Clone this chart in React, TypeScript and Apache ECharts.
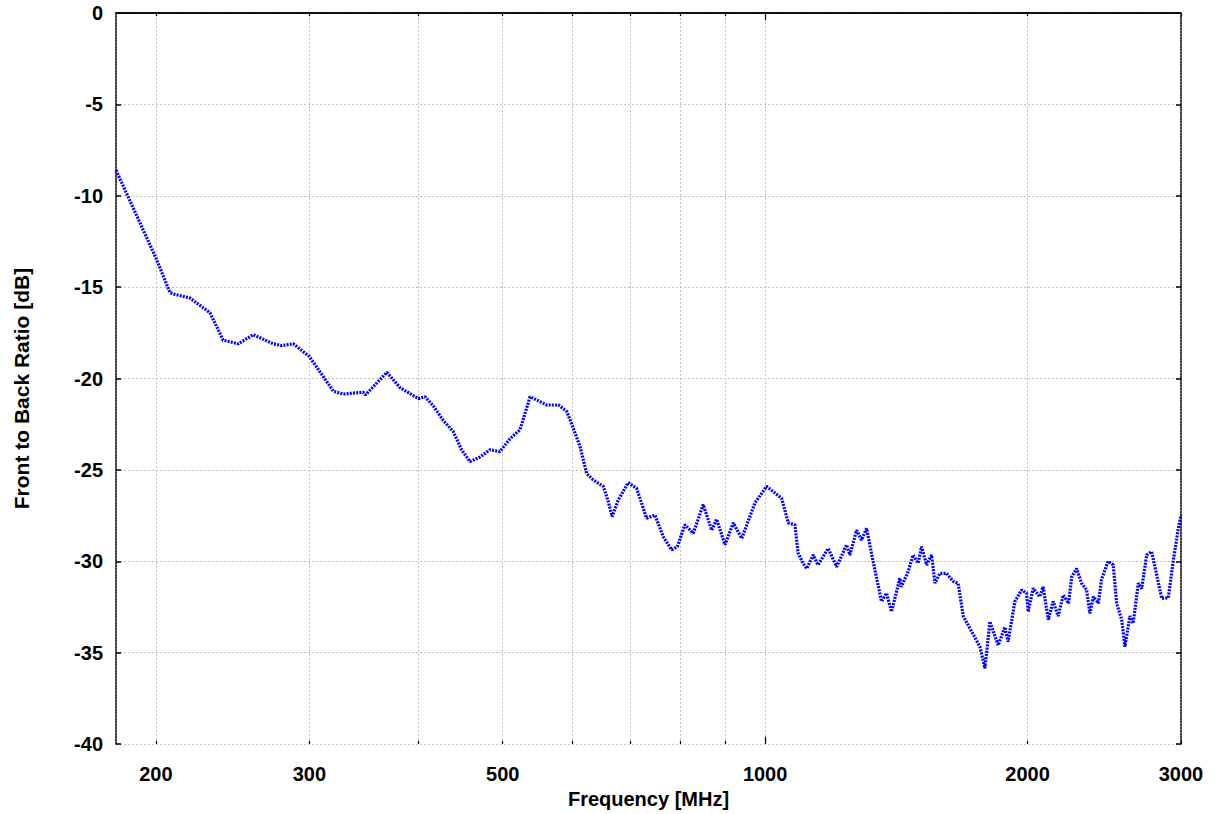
import React, { useEffect, useRef } from "react";
import * as echarts from "echarts";

const freqMHz: number[] = [
  180, 200, 207.6, 210.4, 218.9, 230.7, 238.9, 248.6, 258.7, 272.7, 278.8, 287.5, 300,
  319.7, 328.1, 345.8, 348, 368.1, 381.2, 400, 407.2, 416.2, 427.4, 438.7, 448.5, 458.5,
  470.7, 483.3, 496.3, 509.6, 523.4, 537.4, 561.8, 579.3, 592, 600, 613.1, 624.1, 635,
  652, 660, 667.6, 678.4, 696.4, 712, 731.2, 747.4, 764.1, 781.2, 793, 809, 827.1, 849.2,
  868.3, 879.8, 899.3, 919.4, 940, 973.6, 1004, 1044.5, 1063, 1081.8, 1091, 1105, 1115.8,
  1135.6, 1150, 1181.3, 1208, 1240, 1251, 1273.3, 1290, 1307.3, 1330, 1360, 1378, 1396.4,
  1427.4, 1433, 1459, 1478.3, 1498, 1511.6, 1532, 1552.3, 1566.2, 1586.7, 1615, 1643.4,
  1665, 1687.7, 1725.7, 1763.8, 1787.2, 1811, 1851, 1884, 1900, 1934.5, 1969, 1995, 2003.5,
  2030, 2066, 2084, 2113, 2140, 2169, 2198, 2229, 2248, 2277, 2307, 2338, 2358, 2380, 2412,
  2432, 2475, 2508, 2531, 2565, 2587, 2621, 2644, 2680, 2704, 2740, 2776, 2813, 2851, 2901,
  2940, 2979, 3000,
];

const ratioDb: number[] = [
  -8.6, -13.4, -15.3, -15.4, -15.6, -16.4, -17.9, -18.1, -17.6, -18.1, -18.2, -18.1, -18.8,
  -20.7, -20.85, -20.75, -20.9, -19.66, -20.5, -21.1, -21.0, -21.5, -22.3, -22.9, -23.9, -24.55,
  -24.3, -23.9, -24.0, -23.3, -22.8, -21.0, -21.45, -21.45, -21.8, -22.5, -23.7, -25.2, -25.55,
  -25.9, -26.65, -27.56, -26.65, -25.7, -26.0, -27.65, -27.47, -28.66, -29.38, -29.2, -28.0, -28.47, -26.9,
  -28.3, -27.7, -29.1, -27.9, -28.75, -26.8, -25.9, -26.55, -27.9, -28.0, -29.55, -30.1, -30.4,
  -29.66, -30.2, -29.3, -30.3, -29.1, -29.66, -28.3, -28.84, -28.2, -30.0, -32.2, -31.75, -32.76,
  -30.93, -31.4, -30.57, -29.66, -30.1, -29.2, -30.2, -29.66, -31.2, -30.66, -30.66, -31.1,
  -31.2, -33.0, -33.85, -34.68, -35.86, -33.3, -34.6, -33.6, -34.4, -32.2, -31.57, -31.75, -32.76,
  -31.48, -31.94, -31.4, -33.2, -32.2, -33.0, -31.85, -32.3, -30.85, -30.4, -31.2, -31.57, -32.85, -31.94, -32.3,
  -31.0, -30.0, -30.2, -32.3, -33.2, -34.68, -33.0, -33.4, -31.2, -31.5, -29.66, -29.47, -30.75, -32.03, -32.0,
  -29.93, -28.2, -27.47,
];

const gridFreqs: number[] = [200, 300, 400, 500, 600, 700, 800, 900, 1000, 2000, 3000];
const labeledFreqs: number[] = [200, 300, 500, 1000, 2000, 3000];
const decadeFreqs: number[] = [1000];

const yTickValues = { min: -40, max: 0, step: 5 };

const FONT = "'Liberation Sans', Arial, Helvetica, sans-serif";

export default function App() {
  const ref = useRef<HTMLDivElement>(null);

  useEffect(() => {
    document.body.style.margin = "0";
    if (!ref.current) return;
    const chart = echarts.init(ref.current, undefined, { renderer: "svg" });

    const data = freqMHz.map((f, i) => [f, ratioDb[i]]);

    const borderLine = { color: "#000", type: [2, 1] as any, width: 1.5 };

    const gridLineItems = gridFreqs.map((f) => ({
      xAxis: f,
      lineStyle: {
        color: f === 3000 ? "rgba(0,0,0,0)" : "#c0c0c0",
        type: [2, 2] as any,
        width: 1,
      },
      label: {
        show: labeledFreqs.includes(f),
        position: "start" as const,
        formatter: String(f),
        fontFamily: FONT,
        fontWeight: "bold" as const,
        fontSize: 20,
        color: "#000",
        distance: 20,
      },
    }));

    const tickItems: any[] = [];
    gridFreqs.forEach((f) => {
      const len = decadeFreqs.includes(f) ? 0.4 : 0.17;
      tickItems.push([
        { coord: [f, yTickValues.min], lineStyle: { color: "#000", type: "solid", width: 1.2 }, label: { show: false } },
        { coord: [f, yTickValues.min + len] },
      ]);
      tickItems.push([
        { coord: [f, yTickValues.max], lineStyle: { color: "#000", type: "solid", width: 1.2 }, label: { show: false } },
        { coord: [f, yTickValues.max - len] },
      ]);
    });

    chart.setOption({
      animation: false,
      backgroundColor: "#fff",
      grid: { left: 116, right: 36, top: 13, bottom: 70, containLabel: false },
      xAxis: [
        {
          type: "log",
          logBase: 10,
          min: 180,
          max: 3000,
          position: "bottom",
          axisLine: { show: true, lineStyle: borderLine },
          axisTick: { show: false },
          axisLabel: { show: false },
          splitLine: { show: false },
          minorTick: { show: false },
          name: "Frequency [MHz]",
          nameLocation: "middle",
          nameGap: 45,
          nameTextStyle: { fontFamily: FONT, fontWeight: "bold", fontSize: 20, color: "#000" },
        },
        {
          type: "log",
          logBase: 10,
          min: 180,
          max: 3000,
          position: "top",
          axisLine: { show: true, lineStyle: borderLine },
          axisTick: { show: false },
          axisLabel: { show: false },
          splitLine: { show: false },
        },
      ],
      yAxis: [
        {
          type: "value",
          min: yTickValues.min,
          max: yTickValues.max,
          interval: yTickValues.step,
          position: "left",
          axisLine: { show: true, lineStyle: borderLine },
          axisTick: { show: true, inside: true, length: 5, lineStyle: { color: "#000", width: 1.5 } },
          axisLabel: {
            fontFamily: FONT,
            fontWeight: "bold",
            fontSize: 20,
            color: "#000",
            margin: 13,
          },
          splitLine: { show: true, lineStyle: { color: "#c0c0c0", type: [2, 2], width: 1 } },
          name: "Front to Back Ratio [dB]",
          nameLocation: "middle",
          nameGap: 84,
          nameTextStyle: {
            fontFamily: FONT,
            fontWeight: "bold",
            fontSize: 21,
            color: "#000",
            padding: [0, 20, 0, 0],
          },
        },
        {
          type: "value",
          min: yTickValues.min,
          max: yTickValues.max,
          interval: yTickValues.step,
          position: "right",
          axisLine: { show: true, lineStyle: borderLine },
          axisTick: { show: true, inside: true, length: 5, lineStyle: { color: "#000", width: 1.5 } },
          axisLabel: { show: false },
          splitLine: { show: false },
        },
      ],
      series: [
        {
          type: "line",
          xAxisIndex: 0,
          yAxisIndex: 0,
          data,
          showSymbol: false,
          symbol: "none",
          smooth: false,
          z: 3,
          lineStyle: { color: "#0000ff", width: 3.2, type: [2, 1.2] },
          markLine: {
            silent: true,
            symbol: "none",
            z: 1,
            animation: false,
            data: [...gridLineItems, ...tickItems],
          },
        },
      ],
    });

    return () => chart.dispose();
  }, []);

  return <div ref={ref} style={{ width: 1217, height: 814 }} />;
}
